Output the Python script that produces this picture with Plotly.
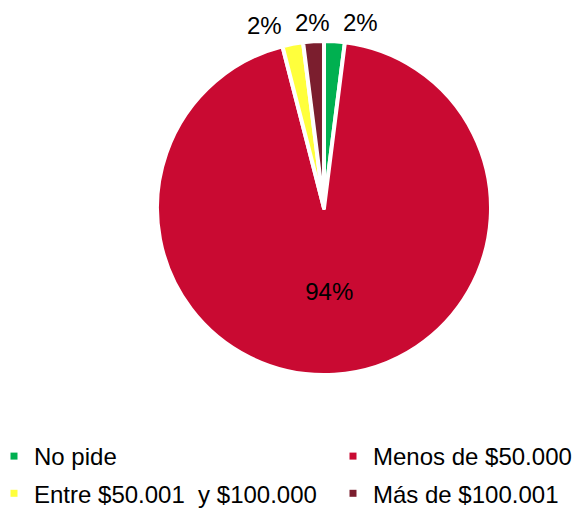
import math
import plotly.graph_objects as go

categories = ["No pide", "Menos de $50.000", "Entre $50.001  y $100.000", "Más de $100.001"]
values = [2, 94, 2, 2]
colors = ["#00B050", "#C90A32", "#FFFF3C", "#7B1E2E"]
legend_columns = ["legend", "legend2", "legend", "legend2"]

W, H = 582, 511
OFF = 8  # page body margin of the html page
CX, CY, R = 324 - OFF, 208 - OFF, 167
FONT = "Liberation Sans, Arial, sans-serif"

total = sum(values)
pct = [v / total * 100 for v in values]
is_small = [p < 10 for p in pct]

fig = go.Figure()
fig.add_trace(
    go.Pie(
        labels=categories,
        values=values,
        sort=False,
        direction="clockwise",
        rotation=0,
        marker=dict(colors=colors, line=dict(color="white", width=4)),
        texttemplate=["" if s else "%{percent:.0%}" for s in is_small],
        textposition="inside",
        insidetextorientation="horizontal",
        textfont=dict(family=FONT, size=24, color="#000000"),
        hoverinfo="label+percent",
        showlegend=False,
        domain=dict(x=[(CX - R) / W, (CX + R) / W], y=[1 - (CY + R) / H, 1 - (CY - R) / H]),
    )
)

# outside labels for the small slices, placed from slice mid-angles
label_r = R + 19
cum = 0
pts = []
for v, p, s in zip(values, pct, is_small):
    mid = math.radians((cum + v / 2) / total * 360)
    cum += v
    if s:
        pts.append([CX + label_r * math.sin(mid), CY - label_r * math.cos(mid), f"{round(p)}%"])
pts.sort(key=lambda t: t[0])
min_gap = 48
n = len(pts)
mean_x = sum(t[0] for t in pts) / n
if n > 1 and min(pts[k + 1][0] - pts[k][0] for k in range(n - 1)) < min_gap:
    for k, t in enumerate(pts):
        t[0] = mean_x + (k - (n - 1) / 2) * min_gap
for x, y, txt in pts:
    fig.add_annotation(
        x=x / W, y=1 - y / H, xref="paper", yref="paper", text=txt, showarrow=False,
        font=dict(family=FONT, size=24, color="#000000"), xanchor="center", yanchor="middle",
        borderpad=0,
    )

# legend entries (two columns)
for name, col, lg in zip(categories, colors, legend_columns):
    fig.add_trace(
        go.Scatter(
            x=[None], y=[None], mode="markers", name=name,
            marker=dict(symbol="square", size=7, color=col),
            legend=lg, legendgroup=name, showlegend=True, hoverinfo="skip",
        )
    )

legend_style = dict(
    orientation="v", xanchor="left", yanchor="top", y=1 - (434 - OFF) / H,
    itemwidth=30, tracegroupgap=3,
    font=dict(family=FONT, size=24, color="#000000"), bgcolor="rgba(0,0,0,0)",
)

fig.update_layout(
    width=W,
    height=H,
    margin=dict(l=0, r=0, t=0, b=0, autoexpand=False),
    paper_bgcolor="white",
    plot_bgcolor="white",
    font=dict(family=FONT, size=22, color="#000000"),
    xaxis=dict(visible=False),
    yaxis=dict(visible=False),
    legend=dict(x=-14 / W, **legend_style),
    legend2=dict(x=(333 - OFF) / W, **legend_style),
)

fig.write_html("out.html")
